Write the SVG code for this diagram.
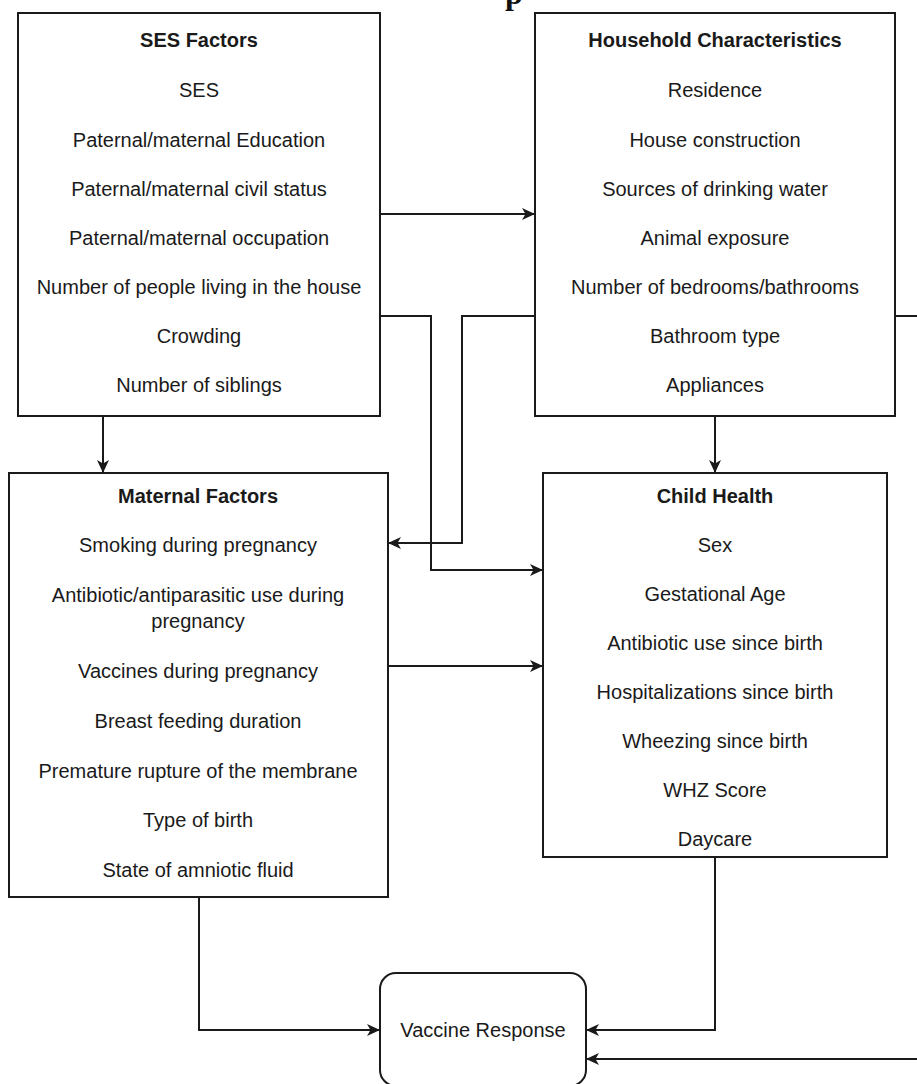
<svg xmlns="http://www.w3.org/2000/svg" width="917" height="1084" viewBox="0 0 917 1084">
<style>
.box{fill:#ffffff;stroke:#1a1a1a;stroke-width:2}
.t{font-family:"Liberation Sans",Arial,Helvetica,sans-serif;font-size:20px;fill:#1a1a1a;text-anchor:middle}
.b{font-weight:bold}
.c{fill:none;stroke:#1a1a1a;stroke-width:2}
</style>
<defs>
<marker id="arr" markerUnits="userSpaceOnUse" markerWidth="14" markerHeight="12" refX="12" refY="6" orient="auto">
<path d="M0,0 L13,6 L0,12 L3.5,6 Z" fill="#1a1a1a"/>
</marker>
</defs>
<rect width="917" height="1084" fill="#ffffff"/>
<text x="505" y="4" font-family="Liberation Serif,Times New Roman,serif" font-size="32" font-weight="bold" fill="#111">p</text>

<g id="ses">
<rect class="box" x="18" y="13" width="362" height="403"/>
<text class="t b" x="199" y="47">SES Factors</text>
<text class="t" x="199" y="97">SES</text>
<text class="t" x="199" y="147">Paternal/maternal Education</text>
<text class="t" x="199" y="196">Paternal/maternal civil status</text>
<text class="t" x="199" y="245">Paternal/maternal occupation</text>
<text class="t" x="199" y="294">Number of people living in the house</text>
<text class="t" x="199" y="343">Crowding</text>
<text class="t" x="199" y="392">Number of siblings</text>
</g>

<g id="household">
<rect class="box" x="535" y="13" width="360" height="403"/>
<text class="t b" x="715" y="47">Household Characteristics</text>
<text class="t" x="715" y="97">Residence</text>
<text class="t" x="715" y="147">House construction</text>
<text class="t" x="715" y="196">Sources of drinking water</text>
<text class="t" x="715" y="245">Animal exposure</text>
<text class="t" x="715" y="294">Number of bedrooms/bathrooms</text>
<text class="t" x="715" y="343">Bathroom type</text>
<text class="t" x="715" y="392">Appliances</text>
</g>

<g id="maternal">
<rect class="box" x="9" y="473" width="379" height="424"/>
<text class="t b" x="198" y="503">Maternal Factors</text>
<text class="t" x="198" y="552">Smoking during pregnancy</text>
<text class="t" x="198" y="602">Antibiotic/antiparasitic use during</text>
<text class="t" x="198" y="628">pregnancy</text>
<text class="t" x="198" y="678">Vaccines during pregnancy</text>
<text class="t" x="198" y="728">Breast feeding duration</text>
<text class="t" x="198" y="778">Premature rupture of the membrane</text>
<text class="t" x="198" y="827">Type of birth</text>
<text class="t" x="198" y="877">State of amniotic fluid</text>
</g>

<g id="child">
<rect class="box" x="543" y="473" width="344" height="384"/>
<text class="t b" x="715" y="503">Child Health</text>
<text class="t" x="715" y="552">Sex</text>
<text class="t" x="715" y="601">Gestational Age</text>
<text class="t" x="715" y="650">Antibiotic use since birth</text>
<text class="t" x="715" y="699">Hospitalizations since birth</text>
<text class="t" x="715" y="748">Wheezing since birth</text>
<text class="t" x="715" y="797">WHZ Score</text>
<text class="t" x="715" y="846">Daycare</text>
</g>

<g id="vaccine">
<rect class="box" x="380" y="973" width="206" height="113" rx="16"/>
<text class="t" x="483" y="1037">Vaccine Response</text>
</g>

<g id="connectors">
<path class="c" d="M380,214 H534" marker-end="url(#arr)"/>
<path class="c" d="M103,416 V472" marker-end="url(#arr)"/>
<path class="c" d="M715,416 V472" marker-end="url(#arr)"/>
<path class="c" d="M380,316 H431 V570 H542" marker-end="url(#arr)"/>
<path class="c" d="M535,316 H462 V543 H389" marker-end="url(#arr)"/>
<path class="c" d="M388,666 H542" marker-end="url(#arr)"/>
<path class="c" d="M199,897 V1030 H379" marker-end="url(#arr)"/>
<path class="c" d="M715,857 V1030 H587" marker-end="url(#arr)"/>
<path class="c" d="M895,316 H940 V1059 H587" marker-end="url(#arr)"/>
</g>
</svg>
